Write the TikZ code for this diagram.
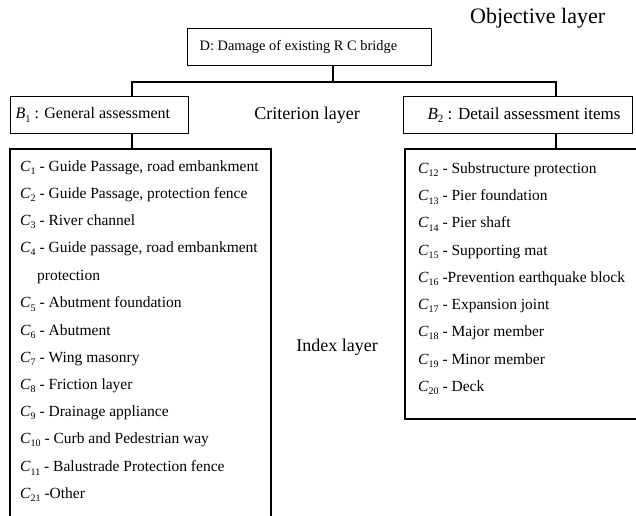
\documentclass[tikz,border=0pt]{standalone}
\usepackage{fontspec}
\setmainfont{Liberation Serif}
\newcommand\Csub[3]{\textit{#1}\raisebox{-0.45ex}{\fontsize{#3}{#3}\selectfont #2}}
\newcommand\Ci[1]{\Csub{C}{#1}{10}}
\begin{document}
\begin{tikzpicture}[x=1pt,y=-1pt,
  itemfont/.style={font=\fontsize{15.5}{17}\selectfont},
  box/.style={draw, line width=1.2pt, minimum height=37, inner ysep=0},
  item/.style={anchor=west, inner sep=0, itemfont},
  lyr/.style={font=\fontsize{18}{20}\selectfont, inner sep=0},
  conn/.style={line width=1.2pt}]
\useasboundingbox (0,0) rectangle (636,515);
% layer labels
\node[lyr, font=\fontsize{22}{24}\selectfont, anchor=west] (obj) at (470,18) {Objective layer};
\node[lyr] (crit) at (307,115) {Criterion layer};
\node[lyr] (idx) at (337,347) {Index layer};
% boxes
\node[box, anchor=west, inner xsep=12pt, font=\fontsize{14.4}{16}\selectfont] (D) at (187,47)
  {\makebox[220pt][l]{D: Damage of existing R C bridge}};
\node[box, anchor=west, inner xsep=5pt, font=\fontsize{16}{18}\selectfont] (B1) at (10,115)
  {\makebox[168pt][l]{\Csub{B}{1}{10.5} : General assessment}};
\node[box, anchor=west, inner xsep=5pt, font=\fontsize{17}{19}\selectfont] (B2) at (403,115)
  {\makebox[219pt][l]{\hspace*{19pt}\Csub{B}{2}{11} : Detail assessment items}};
% connector points
\coordinate (Dj) at (333,66);
\coordinate (bus) at (333,82);
\coordinate (B1j) at (132,96);
\coordinate (B2j) at (556,96);
\coordinate (B1b) at (132,134);
\coordinate (B2b) at (556,134);
\coordinate (CLt) at (132,149);
\coordinate (CRt) at (556,149);
% left index box (open at bottom)
\coordinate (L1) at (10,516);
\coordinate (L2) at (10,149);
\coordinate (L3) at (271,149);
\coordinate (L4) at (271,516);
\draw[conn] (L1) -- (L2) -- (L3) -- (L4);
% right index box (open at right)
\coordinate (R1) at (637,149);
\coordinate (R2) at (405,149);
\coordinate (R3) at (405,419);
\coordinate (R4) at (637,419);
\draw[conn] (R1) -- (R2) -- (R3) -- (R4);
% connectors
\draw[conn] (Dj) -- (bus);
\draw[conn] (B1j) |- (bus) -| (B2j);
\draw[conn] (B1b) -- (CLt);
\draw[conn] (B2b) -- (CRt);
% left items
\node[item] (c1) at (20,168) {\Ci{1} - Guide Passage, road embankment};
\node[item] (c2) at (20,195) {\Ci{2} - Guide Passage, protection fence};
\node[item] (c3) at (20,222) {\Ci{3} - River channel};
\node[item] (c4) at (20,249) {\Ci{4} - Guide passage, road embankment};
\node[item] (c4b) at (37,277) {protection};
\node[item] (c5) at (20,304) {\Ci{5} - Abutment foundation};
\node[item] (c6) at (20,332) {\Ci{6} - Abutment};
\node[item] (c7) at (20,359) {\Ci{7} - Wing masonry};
\node[item] (c8) at (20,386) {\Ci{8} - Friction layer};
\node[item] (c9) at (20,413) {\Ci{9} - Drainage appliance};
\node[item] (c10) at (20,440) {\Ci{10} - Curb and Pedestrian way};
\node[item] (c11) at (20,468) {\Ci{11} - Balustrade Protection fence};
\node[item] (c21) at (20,495) {\Ci{21} -Other};
% right items
\node[item] (c12) at (418,170) {\Ci{12} - Substructure protection};
\node[item] (c13) at (418,197) {\Ci{13} - Pier foundation};
\node[item] (c14) at (418,224) {\Ci{14} - Pier shaft};
\node[item] (c15) at (418,252) {\Ci{15} - Supporting mat};
\node[item] (c16) at (418,279) {\Ci{16} -Prevention earthquake block};
\node[item] (c17) at (418,306) {\Ci{17} - Expansion joint};
\node[item] (c18) at (418,333) {\Ci{18} - Major member};
\node[item] (c19) at (418,361) {\Ci{19} - Minor member};
\node[item] (c20) at (418,388) {\Ci{20} - Deck};
\end{tikzpicture}
\end{document}
